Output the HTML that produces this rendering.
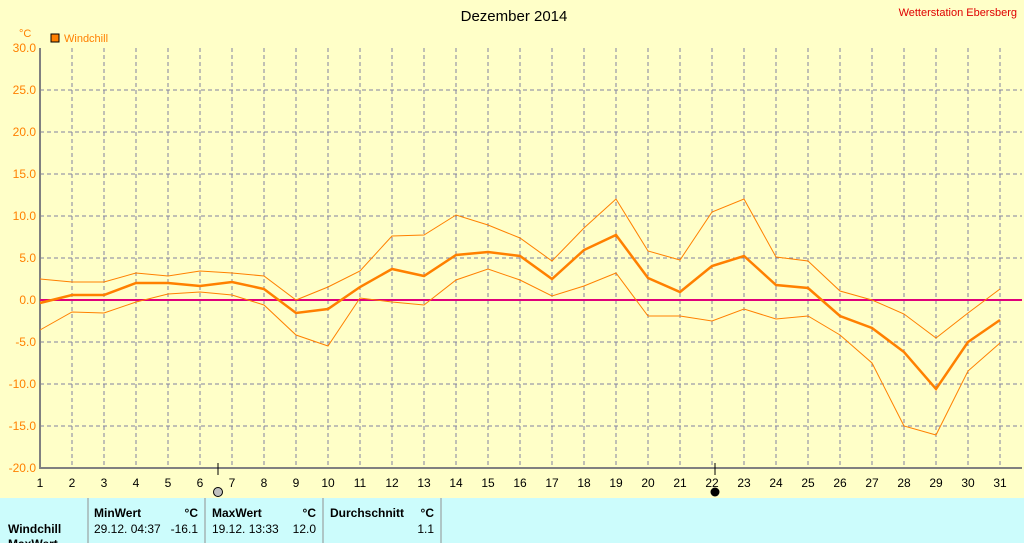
<!DOCTYPE html><html><head><style>body{margin:0;background:#ffffc8;}svg{display:block}</style></head><body>
<svg width="1024" height="543" xmlns="http://www.w3.org/2000/svg" font-family="Liberation Sans, sans-serif">
<rect width="1024" height="543" fill="#ffffc8"/>
<text x="514" y="21" font-size="15" text-anchor="middle" fill="#000">Dezember 2014</text>
<text x="1017" y="16" font-size="11" text-anchor="end" fill="#e00000">Wetterstation Ebersberg</text>
<text x="19" y="37" font-size="11" fill="#ff8000">°C</text>
<rect x="51" y="34" width="8" height="8" fill="#ff8000" stroke="#000"/>
<text x="64" y="42" font-size="11" fill="#ff8000">Windchill</text>
<g stroke="#8080a0" stroke-dasharray="4,3" stroke-width="1">
<path d="M72 48V468M104 48V468M136 48V468M168 48V468M200 48V468M232 48V468M264 48V468M296 48V468M328 48V468M360 48V468M392 48V468M424 48V468M456 48V468M488 48V468M520 48V468M552 48V468M584 48V468M616 48V468M648 48V468M680 48V468M712 48V468M744 48V468M776 48V468M808 48V468M840 48V468M872 48V468M904 48V468M936 48V468M968 48V468M1000 48V468"/>
<path d="M40 90H1022M40 132H1022M40 174H1022M40 216H1022M40 258H1022M40 342H1022M40 384H1022M40 426H1022"/>
</g>
<path d="M40 48V468H1022" stroke="#808080" stroke-width="2" fill="none"/>
<line x1="40" y1="300" x2="1022" y2="300" stroke="#e0007a" stroke-width="2"/>
<g font-size="12" fill="#ff8000" text-anchor="end">
<text x="36" y="52">30.0</text><text x="36" y="94">25.0</text><text x="36" y="136">20.0</text><text x="36" y="178">15.0</text><text x="36" y="220">10.0</text><text x="36" y="262">5.0</text><text x="36" y="304">0.0</text><text x="36" y="346">-5.0</text><text x="36" y="388">-10.0</text><text x="36" y="430">-15.0</text><text x="36" y="472">-20.0</text>
</g>
<g font-size="12" fill="#000" text-anchor="middle">
<text x="40" y="487">1</text><text x="72" y="487">2</text><text x="104" y="487">3</text><text x="136" y="487">4</text><text x="168" y="487">5</text><text x="200" y="487">6</text><text x="232" y="487">7</text><text x="264" y="487">8</text><text x="296" y="487">9</text><text x="328" y="487">10</text><text x="360" y="487">11</text><text x="392" y="487">12</text><text x="424" y="487">13</text><text x="456" y="487">14</text><text x="488" y="487">15</text><text x="520" y="487">16</text><text x="552" y="487">17</text><text x="584" y="487">18</text><text x="616" y="487">19</text><text x="648" y="487">20</text><text x="680" y="487">21</text><text x="712" y="487">22</text><text x="744" y="487">23</text><text x="776" y="487">24</text><text x="808" y="487">25</text><text x="840" y="487">26</text><text x="872" y="487">27</text><text x="904" y="487">28</text><text x="936" y="487">29</text><text x="968" y="487">30</text><text x="1000" y="487">31</text>
</g>
<line x1="218" y1="463" x2="218" y2="475" stroke="#000"/>
<circle cx="218" cy="492" r="4.5" fill="#c0c0c0" stroke="#000"/>
<line x1="715" y1="463" x2="715" y2="475" stroke="#000"/>
<circle cx="715" cy="492" r="4.5" fill="#000"/>
<g fill="none" stroke="#ff8000">
<polyline stroke-width="1" points="40,279 72,282 104,282 136,273 168,276 200,271 232,273 264,276 296,300 328,287 360,271 392,236 424,235 456,215 488,225 520,238 552,261 584,228 616,199 648,251 680,260 712,212 744,199 776,257 808,261 840,291 872,300 904,314 936,338 968,313 1000,289"/>
<polyline stroke-width="1" points="40,330 72,312 104,313 136,302 168,294 200,292 232,295 264,305 296,335 328,346 360,298 392,302 424,305 456,280 488,269 520,280 552,296 584,286 616,273 648,316 680,316 712,321 744,309 776,319 808,316 840,335 872,363 904,426 936,435 968,371 1000,343"/>
<polyline stroke-width="2.5" points="40,303 72,295 104,295 136,283 168,283 200,286 232,282 264,289 296,313 328,309 360,287 392,269 424,276 456,255 488,252 520,256 552,279 584,250 616,235 648,278 680,292 712,266 744,256 776,285 808,288 840,316 872,328 904,352 936,389 968,342 1000,320"/>
</g>
<rect x="0" y="498" width="1024" height="45" fill="#ccfcfc"/>
<g stroke="#909090"><line x1="88" y1="498" x2="88" y2="543"/><line x1="205" y1="498" x2="205" y2="543"/><line x1="323" y1="498" x2="323" y2="543"/><line x1="441" y1="498" x2="441" y2="543"/></g>
<g font-size="12" fill="#000">
<text x="94" y="517" font-weight="bold">MinWert</text><text x="198" y="517" font-weight="bold" text-anchor="end">°C</text>
<text x="212" y="517" font-weight="bold">MaxWert</text><text x="316" y="517" font-weight="bold" text-anchor="end">°C</text>
<text x="330" y="517" font-weight="bold">Durchschnitt</text><text x="434" y="517" font-weight="bold" text-anchor="end">°C</text>
<text x="8" y="533" font-weight="bold">Windchill</text>
<text x="94" y="533">29.12.  04:37</text><text x="198" y="533" text-anchor="end">-16.1</text>
<text x="212" y="533">19.12.  13:33</text><text x="316" y="533" text-anchor="end">12.0</text>
<text x="434" y="533" text-anchor="end">1.1</text>
<text x="8" y="548" font-weight="bold">MaxWert</text>
</g>
</svg></body></html>
